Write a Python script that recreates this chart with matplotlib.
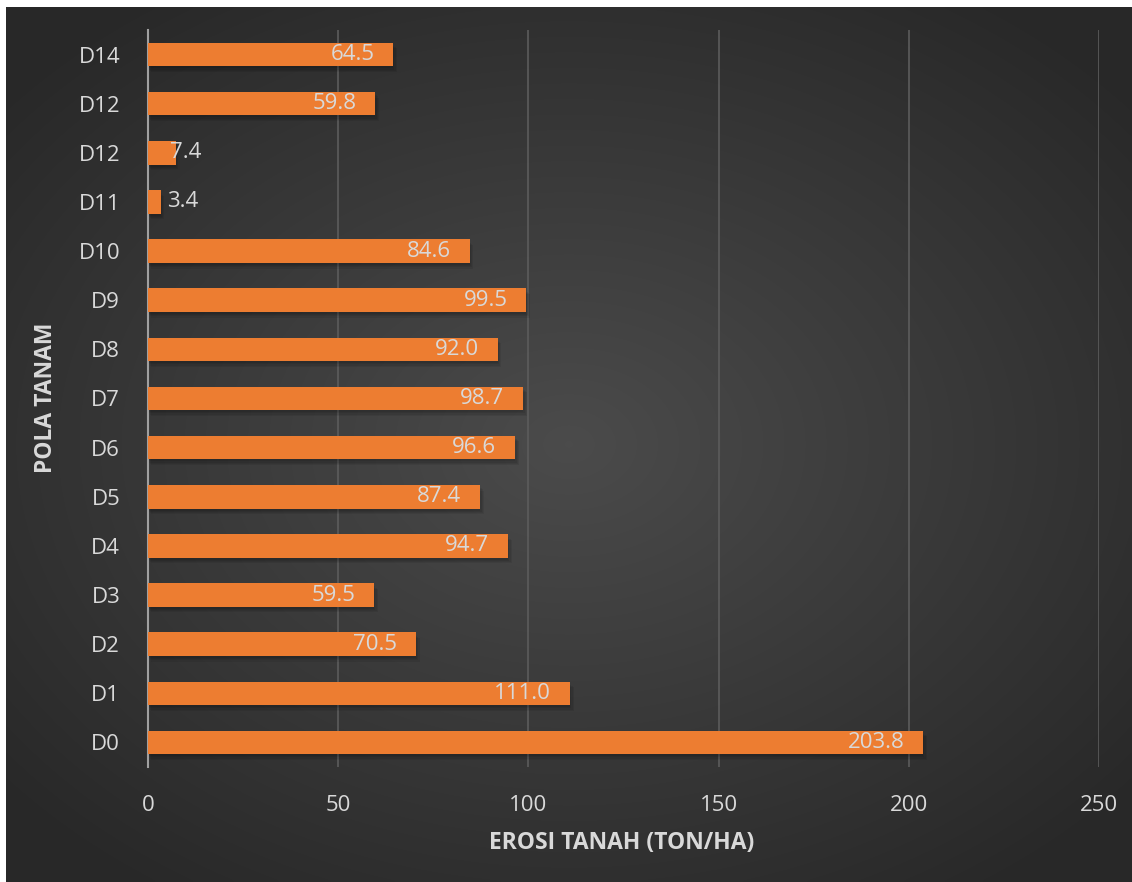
import numpy as np
import matplotlib
matplotlib.use("Agg")
import matplotlib.pyplot as plt

# data (bottom to top)
categories = ["D0", "D1", "D2", "D3", "D4", "D5", "D6", "D7", "D8", "D9", "D10", "D11", "D12", "D12", "D14"]
values = [203.8, 111.0, 70.5, 59.5, 94.7, 87.4, 96.6, 98.7, 92.0, 99.5, 84.6, 3.4, 7.4, 59.8, 64.5]
xticks = [0, 50, 100, 150, 200, 250]

bar_color = "#ED7D31"
text_color = "#d9d9d9"
plt.rcParams['font.family'] = ['Open Sans', 'DejaVu Sans']

W, H = 1132, 882
fig = plt.figure(figsize=(W / 100, H / 100), dpi=100, facecolor="white")

# dark radial gradient panel
bg = fig.add_axes([6 / W, 0, 1 - 6 / W, 1 - 7 / H], zorder=-2)
yy, xx = np.mgrid[-1:1:300j, -1:1:400j]
r = np.sqrt((xx * 0.95) ** 2 + (yy * 1.0) ** 2)
shade = np.clip(0.295 - 0.11 * r, 0.16, 0.3)
bg.imshow(np.dstack([shade] * 3), aspect="auto", extent=[0, 1, 0, 1], interpolation="bicubic")
bg.axis("off")

ax = fig.add_axes([148 / W, 1 - 767 / H, (1099 - 148) / W, (767 - 30) / H])
ax.set_facecolor("none")

pos = np.arange(len(categories))
bar_h = 0.48
# soft shadow, a few faint layers
for k in range(4):
    ax.barh(pos - 0.04 - 0.025 * k, values, height=bar_h, left=0.3 * k,
            color="black", alpha=0.07, zorder=2, linewidth=0)
ax.barh(pos, values, height=bar_h, color=bar_color, zorder=3)

for p, v in zip(pos, values):
    if v < 10:
        x = v + 1.5 if v < 5 else v - 1.5
        ax.text(x, p, f"{v:.1f}", ha="left", va="center", color=text_color, fontsize=16, zorder=4)
    else:
        ax.text(v - 5.0, p, f"{v:.1f}", ha="right", va="center", color=text_color, fontsize=16, zorder=4)

ax.set_xlim(0, 250)
ax.set_ylim(-0.5, len(categories) - 0.5)
ax.set_xticks(xticks)
ax.set_yticks(pos)
ax.set_yticklabels(categories)
ax.tick_params(axis="both", length=0, colors=text_color, labelsize=16)
ax.tick_params(axis="x", pad=20)
ax.tick_params(axis="y", pad=20)

ax.grid(axis="x", color="#5c5c5c", linewidth=1.2, zorder=0)
ax.set_axisbelow(True)
for s in ["top", "right", "bottom"]:
    ax.spines[s].set_visible(False)
ax.spines["left"].set_color("#a0a0a0")
ax.spines["left"].set_linewidth(1.5)

fig.text(622 / W, 1 - 843 / H, "EROSI TANAH (TON/HA)", ha="center", va="center",
         color=text_color, fontsize=16.5, fontweight="bold")
fig.text(46 / W, 1 - 398 / H, "POLA TANAM", ha="center", va="center", rotation=90,
         color=text_color, fontsize=16.5, fontweight="bold")

fig.savefig("out.png", dpi=100, facecolor="white")
